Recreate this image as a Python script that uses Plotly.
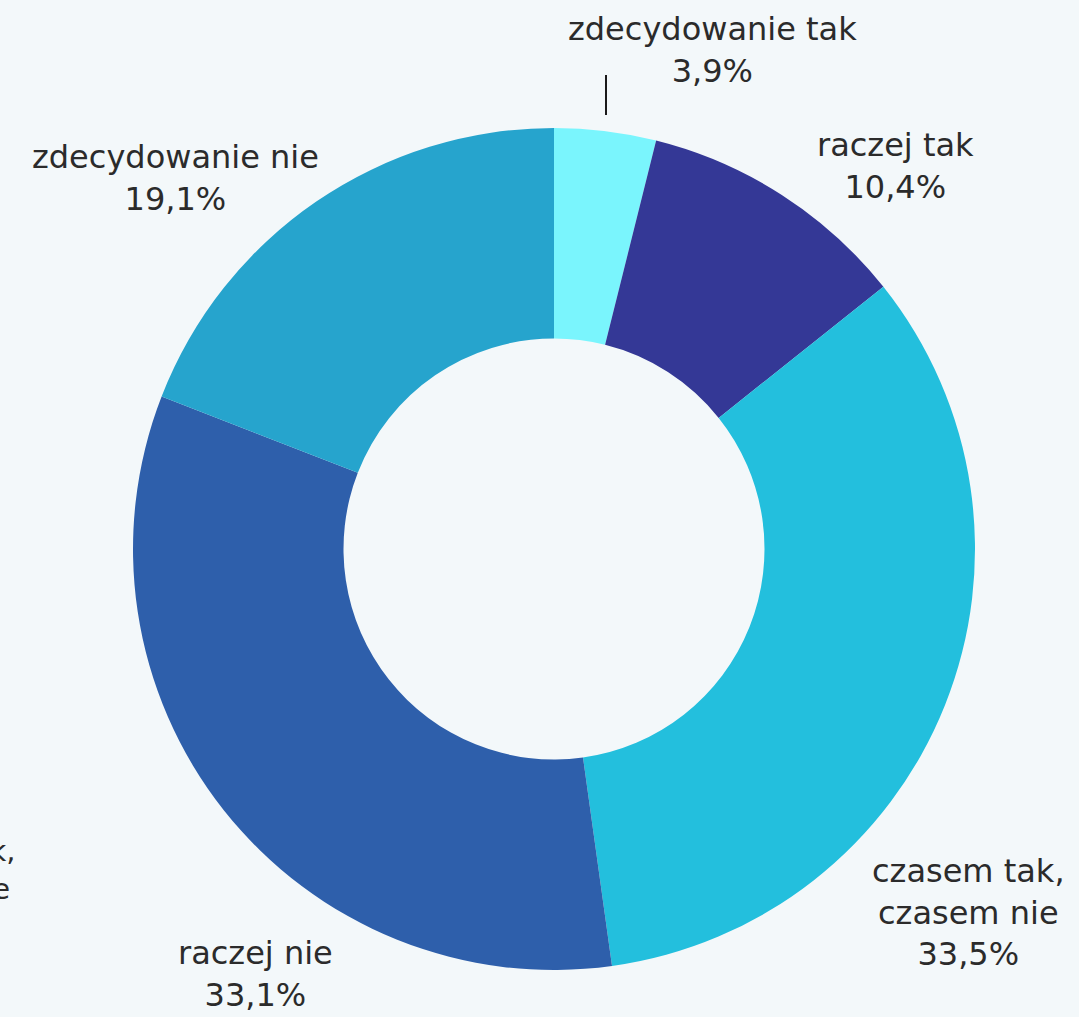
import plotly.graph_objects as go

W, H = 1079, 1017

categories = ["zdecydowanie tak", "raczej tak", "czasem tak, czasem nie", "raczej nie", "zdecydowanie nie"]
values = [3.9, 10.4, 33.5, 33.1, 19.1]
label_lines = ["zdecydowanie tak", "raczej tak", "czasem tak,<br>czasem nie", "raczej nie", "zdecydowanie nie"]
colors = ["#7af5fd", "#343896", "#23bfdd", "#2e5fab", "#26a4cd"]

# label centre positions (pixels)
label_pos = [(712, 50), (895, 166), (968, 912), (255, 974), (175, 178)]

FONT = "DejaVu Sans"
TEXT_COLOR = "#2b2b2b"

def px(x):
    return x / W

def py(y):
    return 1 - y / H

cx, cy, r = 554, 549, 421

fig = go.Figure(go.Pie(
    labels=categories,
    values=values,
    marker=dict(colors=colors, line=dict(width=0)),
    hole=0.5,
    sort=False,
    direction="clockwise",
    rotation=0,
    textinfo="none",
    hoverinfo="label+percent",
    showlegend=False,
    domain=dict(x=[px(cx - r), px(cx + r)], y=[py(cy + r), py(cy - r)]),
))

annotations = []
for lab, v, (x, y) in zip(label_lines, values, label_pos):
    txt = f"{lab}<br>{str(v).replace('.', ',')}%"
    annotations.append(dict(
        x=px(x), y=py(y), xref="paper", yref="paper",
        text=txt, showarrow=False, xanchor="center", yanchor="middle",
        align="center", font=dict(family=FONT, size=32, color=TEXT_COLOR),
    ))

# partially visible label at the left edge (cut off in the reference too)
annotations.append(dict(
    x=px(18), y=py(870), xref="paper", yref="paper",
    text="czasem tak,<br>czasem nie", showarrow=False, xanchor="right", yanchor="middle",
    align="center", font=dict(family=FONT, size=29, color=TEXT_COLOR),
))

fig.update_layout(
    width=W, height=H,
    margin=dict(l=0, r=0, t=0, b=0),
    paper_bgcolor="#f3f8fa",
    plot_bgcolor="#f3f8fa",
    annotations=annotations,
    shapes=[dict(type="line", xref="paper", yref="paper",
                 x0=px(606), x1=px(606), y0=py(75), y1=py(115),
                 line=dict(color="#1a1a1a", width=2))],
)

fig.write_html("out.html")
